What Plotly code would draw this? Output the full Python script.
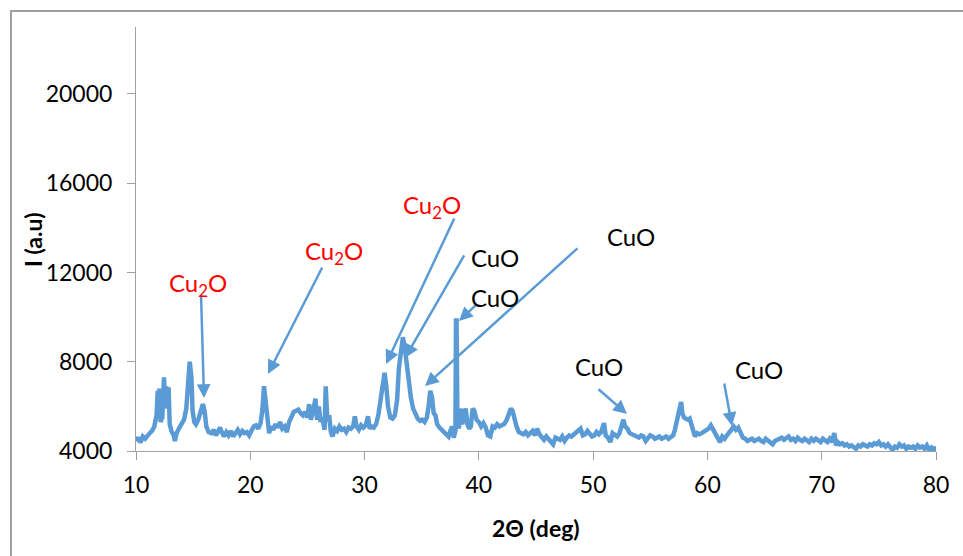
import plotly.graph_objects as go

two_theta = [
    10.0, 10.2, 10.4, 10.6, 10.8, 11.0, 11.2, 11.4, 11.6, 11.8, 11.9, 12.0, 12.05, 12.15, 12.3,
    12.45, 12.55, 12.65, 12.75, 12.85, 12.95, 13.1, 13.3, 13.4, 13.55, 13.8, 14.0, 14.2, 14.4,
    14.55, 14.7, 14.85, 14.95, 15.1, 15.25, 15.45, 15.65, 15.85, 16.0, 16.15, 16.35, 16.6, 16.8,
    17.0, 17.2, 17.35, 17.5, 17.7, 17.9, 18.1, 18.3, 18.5, 18.7, 18.9, 19.1, 19.3, 19.5, 19.7,
    19.9, 20.1, 20.3, 20.5, 20.7, 20.9, 21.05, 21.2, 21.35, 21.5, 21.65, 21.8, 22.0, 22.2, 22.4,
    22.6, 22.8, 23.0, 23.2, 23.4, 23.6, 23.8, 24.0, 24.2, 24.4, 24.6, 24.8, 25.0, 25.15, 25.3,
    25.5, 25.7, 25.85, 26.0, 26.15, 26.3, 26.5, 26.6, 26.75, 26.9, 27.05, 27.2, 27.4, 27.6, 27.8,
    28.0, 28.2, 28.4, 28.6, 28.8, 29.0, 29.15, 29.3, 29.5, 29.7, 29.9, 30.1, 30.3, 30.45, 30.6,
    30.8, 31.0, 31.2, 31.4, 31.6, 31.75, 31.9, 32.05, 32.25, 32.45, 32.65, 32.85, 33.0, 33.2,
    33.35, 33.5, 33.65, 33.85, 34.05, 34.25, 34.45, 34.65, 34.85, 35.05, 35.25, 35.45, 35.6,
    35.75, 35.9, 36.05, 36.2, 36.35, 36.55, 36.75, 36.95, 37.15, 37.35, 37.5, 37.65, 37.8, 37.95,
    38.0, 38.05, 38.12, 38.25, 38.4, 38.55, 38.7, 38.85, 39.0, 39.15, 39.3, 39.45, 39.6, 39.8,
    40.0, 40.2, 40.4, 40.6, 40.8, 41.0, 41.2, 41.4, 41.6, 41.8, 42.0, 42.2, 42.4, 42.6, 42.8,
    42.95, 43.1, 43.3, 43.5, 43.7, 43.9, 44.1, 44.3, 44.5, 44.7, 44.9, 45.1, 45.3, 45.5, 45.7,
    45.9, 46.1, 46.3, 46.5, 46.7, 46.9, 47.1, 47.3, 47.5, 47.7, 47.9, 48.1, 48.3, 48.5, 48.7,
    48.9, 49.1, 49.3, 49.5, 49.7, 49.9, 50.1, 50.3, 50.5, 50.7, 50.95, 51.1, 51.3, 51.5, 51.7,
    51.9, 52.1, 52.3, 52.5, 52.65, 52.8, 53.0, 53.2, 53.4, 53.6, 53.8, 54.0, 54.2, 54.4, 54.6,
    54.8, 55.0, 55.2, 55.4, 55.6, 55.8, 56.0, 56.2, 56.4, 56.6, 56.8, 57.0, 57.15, 57.3, 57.45,
    57.6, 57.7, 57.8, 57.95, 58.1, 58.3, 58.45, 58.6, 58.75, 58.9, 59.1, 59.3, 59.5, 59.7, 59.9,
    60.1, 60.3, 60.5, 60.7, 60.9, 61.1, 61.3, 61.5, 61.7, 61.9, 62.1, 62.3, 62.5, 62.7, 62.9,
    63.1, 63.3, 63.5, 63.7, 63.9, 64.1, 64.3, 64.5, 64.7, 64.9, 65.1, 65.3, 65.5, 65.7, 65.9,
    66.1, 66.3, 66.5, 66.7, 66.9, 67.1, 67.3, 67.5, 67.7, 67.9, 68.1, 68.3, 68.5, 68.7, 68.9,
    69.1, 69.3, 69.5, 69.7, 69.9, 70.1, 70.3, 70.5, 70.7, 70.9, 71.1, 71.25, 71.4, 71.6, 71.8,
    72.0, 72.2, 72.4, 72.6, 72.8, 73.0, 73.2, 73.4, 73.6, 73.8, 74.0, 74.2, 74.4, 74.6, 74.8,
    75.0, 75.2, 75.4, 75.6, 75.8, 76.0, 76.2, 76.4, 76.6, 76.8, 77.0, 77.2, 77.4, 77.6, 77.8,
    78.0, 78.2, 78.4, 78.6, 78.8, 79.0, 79.2, 79.4, 79.6, 79.8, 80.0,
]

intensity = [
    4450, 4600, 4380, 4650, 4550, 4700, 4800, 4900, 5100, 5600, 6700, 6200, 6800, 5300, 5500,
    7300, 6200, 6900, 5900, 6850, 5200, 4900, 4700, 4450, 4800, 5050, 5200, 5400, 5900,
    7400, 8000, 7300, 5800, 5300, 5200, 5400, 5800, 6100, 5800, 5100, 4850, 4800, 4950,
    4700, 4900, 5050, 4850, 4650, 4850, 4700, 4900, 4650, 4800, 4950, 4750, 4900, 4800, 4850,
    4700, 4900, 5100, 5150, 5000, 5250, 5800, 6900, 6200, 5200, 4800, 5100, 4950, 5200, 5050,
    5300, 5000, 5100, 4850, 5300, 5500, 5750, 5800, 5850, 5700, 5600, 5750, 5500, 6100, 5400,
    5800, 6350, 5400, 6000, 5300, 5500, 4950, 6900, 5300, 5600, 4850, 4650, 5000, 4900, 5100,
    4950, 5000, 4850, 5050, 5000, 5100, 5550, 5100, 4950, 5150, 5050, 5150, 5550, 5000, 5100,
    5050, 5200, 5600, 6300, 7300, 7500, 6900, 6000, 5500, 5450, 5600, 6300, 7700, 8400,
    9100, 8700, 8000, 7200, 6400, 5900, 5600, 5450, 5350, 5400, 5300, 5500, 6000,
    6700, 6400, 5700, 5600, 5200, 5050, 4950, 4850, 4800, 4650, 4900, 5100, 4600, 4900,
    9850, 9850, 5600, 5000, 5900, 5200, 5600, 5900, 5200, 5000, 5100, 5900, 5800, 5400,
    5300, 5100, 5250, 5050, 4700, 4650, 5100, 5050, 5200, 5100, 5150, 5200, 5350, 5600, 5900,
    5800, 5400, 5100, 4850, 4800, 4750, 4850, 4700, 4800, 4900, 4700, 5000, 4750, 4600, 4500,
    4650, 4550, 4450, 4300, 4600, 4550, 4500, 4650, 4450, 4600, 4700, 4650, 4750, 4850, 4900,
    5000, 4700, 4750, 4900, 4800, 4650, 4700, 4850, 4750, 4850, 5250, 4700, 4600, 4400, 4800,
    4750, 4650, 4800, 5100, 5400, 5100, 5000, 4800, 4750, 4700, 4650, 4600, 4700, 4650, 4450,
    4550, 4700, 4650, 4550, 4600, 4650, 4550, 4600, 4650, 4550, 4600, 4700, 4950, 5300, 5700,
    5900, 6200, 5700, 5500, 5450, 5400, 5450, 5150, 5000, 4650, 4800, 4750, 4800, 4850, 4900,
    5000, 5150, 4950, 4800, 4600, 4400, 4650, 4550, 4700, 4800, 4950, 5100, 4950, 5050, 4750,
    4600, 4550, 4450, 4500, 4550, 4450, 4500, 4550, 4450, 4400, 4550, 4450, 4400, 4300, 4450,
    4500, 4550, 4600, 4500, 4550, 4650, 4500, 4550, 4450, 4600, 4500, 4450, 4550, 4500, 4400,
    4550, 4450, 4550, 4500, 4400, 4550, 4450, 4400, 4550, 4400, 4800, 4250, 4400, 4300, 4350,
    4250, 4300, 4200, 4250, 4150, 4100, 4250, 4200, 4300, 4250, 4200, 4300, 4250, 4350, 4300,
    4400, 4250, 4300, 4200, 4300, 4150, 4050, 4200, 4150, 4300, 4200, 4250, 4100, 4200, 4150,
    4200, 4100, 4250, 4150, 4200, 4100, 4250, 4050, 4150, 4000, 4200,
]

x_ticks = [10, 20, 30, 40, 50, 60, 70, 80]
y_ticks = [4000, 8000, 12000, 16000, 20000]

x_title = "<b>2Θ (deg)</b>"
y_title = "<b>I (a.u)</b>"

# phase labels: text, x, y (data coords), colour
label_text = ["Cu<sub>2</sub>O", "Cu<sub>2</sub>O", "Cu<sub>2</sub>O", "CuO", "CuO", "CuO", "CuO", "CuO"]
label_x = [15.43, 27.33, 35.90, 41.41, 41.41, 53.31, 50.51, 64.51]
label_y = [11440, 12874, 14936, 12650, 10857, 13591, 7765, 7630]
label_color = ["#FF0000", "#FF0000", "#FF0000", "#000000", "#000000", "#000000", "#000000", "#000000"]

# arrows: start (tail) and tip, data coords
arrow_x0 = [15.69, 26.36, 37.91, 38.79, 39.84, 48.76, 50.34, 61.45]
arrow_y0 = [11037, 12291, 14488, 12829, 10588, 13143, 6824, 7093]
arrow_x1 = [15.95, 21.55, 31.88, 33.54, 38.26, 35.29, 52.96, 62.15]
arrow_y1 = [6375, 7451, 7899, 8168, 9826, 6913, 5658, 5120]

FONT = "Lato"
BLUE = "#5B9BD5"
GRAY = "#A0A0A0"

fig = go.Figure()
fig.add_trace(go.Scatter(
    x=two_theta, y=intensity, mode="lines",
    line=dict(color=BLUE, width=4.5), showlegend=False, hoverinfo="skip",
))

annotations = []
for x0, y0, x1, y1 in zip(arrow_x0, arrow_y0, arrow_x1, arrow_y1):
    annotations.append(dict(
        x=x1, y=y1, ax=x0, ay=y0, xref="x", yref="y", axref="x", ayref="y",
        text="", showarrow=True, arrowhead=2, arrowsize=1.1, arrowwidth=2.5,
        arrowcolor=BLUE, standoff=0, startstandoff=0,
    ))
for t, x, y, c in zip(label_text, label_x, label_y, label_color):
    annotations.append(dict(
        x=x, y=y, xref="x", yref="y", text=t, showarrow=False,
        xanchor="center", yanchor="middle",
        font=dict(family=FONT, size=24, color=c),
    ))
# axis titles
annotations.append(dict(
    x=0.5, y=-0.1816, xref="paper", yref="paper", text=x_title, showarrow=False,
    xanchor="center", yanchor="middle", font=dict(family=FONT, size=23, color="black"),
))
annotations.append(dict(
    x=-0.12875, y=0.4976, xref="paper", yref="paper", text=y_title, showarrow=False,
    textangle=-90, xanchor="center", yanchor="middle",
    font=dict(family=FONT, size=23, color="black"),
))

fig.update_layout(
    width=963, height=556,
    margin=dict(l=136, r=27, t=27, b=105),
    paper_bgcolor="white", plot_bgcolor="white",
    font=dict(family=FONT, size=23, color="black"),
    annotations=annotations,
    shapes=[dict(type="rect", xref="paper", yref="paper",
                 x0=-0.15625, x1=1.5, y0=-1.0, y1=1.0377,
                 line=dict(color=GRAY, width=2), fillcolor="rgba(0,0,0,0)", layer="below")],
    xaxis=dict(
        range=[10, 80], tickvals=x_ticks, ticktext=[str(v) for v in x_ticks],
        showgrid=False, zeroline=False, showline=True, linecolor=GRAY, linewidth=1,
        ticks="outside", ticklen=8, tickcolor=GRAY, tickwidth=1, ticklabelstandoff=5,
        tickfont=dict(family=FONT, size=23, color="black"),
    ),
    yaxis=dict(
        range=[4000, 23000], tickvals=y_ticks, ticktext=[str(v) for v in y_ticks],
        showgrid=False, zeroline=False, showline=True, linecolor=GRAY, linewidth=1,
        ticks="outside", ticklen=8, tickcolor=GRAY, tickwidth=1, ticklabelstandoff=10,
        tickfont=dict(family=FONT, size=23, color="black"),
    ),
)

fig.write_html("out.html")
